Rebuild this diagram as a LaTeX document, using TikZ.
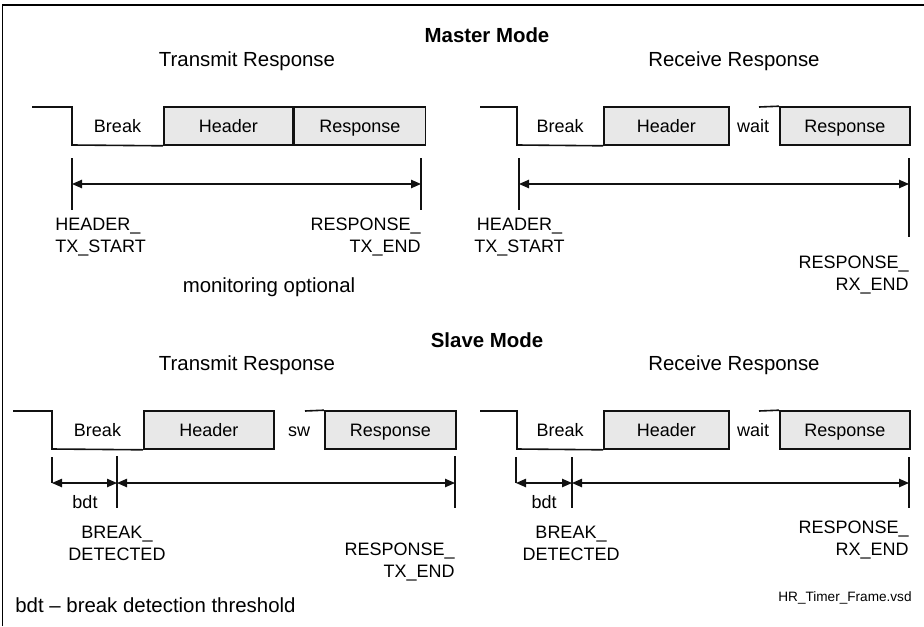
\documentclass[tikz,border=0pt]{standalone}
\usepackage{fontspec}
\setmainfont{Liberation Sans}
\usetikzlibrary{arrows.meta,positioning}
\definecolor{Field}{HTML}{E8E8E8}
\definecolor{Ink}{HTML}{111111}
\tikzset{sig/.style={draw=Ink,line width=.8pt},field/.style={draw=Ink,fill=Field,line width=.8pt,minimum height=19pt,inner sep=0pt,text height=6.6pt,text depth=.6pt,anchor=west,font=\fontsize{9}{11}\selectfont},lbl/.style={inner sep=0pt,font=\fontsize{9}{11}\selectfont},word/.style={lbl,text height=6.6pt,text depth=.6pt},ttl/.style={inner sep=0pt,font=\fontsize{10.2}{12}\selectfont},tick/.style={draw=Ink,line width=.6pt},span/.style={{Triangle[length=5pt,width=4.2pt]}-{Triangle[length=5pt,width=4.2pt]},draw=Ink,line width=.6pt}}

\begin{document}
\begin{tikzpicture}[x=.5pt,y=-.5pt]
\useasboundingbox (0,0) rectangle (924,626);
\draw[line width=.6pt] (2.5,626) -- (2.5,5) -- (924,5);
\node[ttl,font=\fontsize{10.2}{12}\selectfont\bfseries] (masterT) at (487,35) {Master Mode};
\node[ttl,font=\fontsize{10.2}{12}\selectfont\bfseries] (slaveT) at (487,340) {Slave Mode};
% master, transmit
\node[ttl] (mtT) at (247,61) {Transmit Response};
\node[field,minimum width=64.5pt] (mtHdr) at (163,126) {Header};
\node[field,minimum width=65.5pt,right=0pt of mtHdr] (mtRsp) {Response};
\node[word] (mtBrk) at (117.5,126) {Break};
\coordinate (mtS0) at (32,107);\coordinate (mtS1) at (72,107);\coordinate (mtS2) at (72,145);
\draw[sig] (mtS0) -- (mtS1) -- (mtS2) -- (mtHdr.south west);
\coordinate (mtA) at (72,184);\coordinate (mtB) at (421,184);
\draw[tick] (72,158) -- (72,210);\draw[tick] (421,158) -- (421,210);
\draw[span] (mtA) -- (mtB);
\node[lbl,align=left,anchor=west] (mtStart) at (55,237) {HEADER\_\\TX\_START};
\node[lbl,align=right,anchor=east] (mtEnd) at (421,237) {RESPONSE\_\\TX\_END};
\node[ttl] (mtMon) at (269,287) {monitoring optional};
% master, receive
\node[ttl] (mrT) at (734,61) {Receive Response};
\node[field,minimum width=62.5pt] (mrHdr) at (603,126) {Header};
\node[field,minimum width=65pt] (mrRsp) at (779,126) {Response};
\node[word] (mrBrk) at (560,126) {Break};
\node[word] (mrWait) at (753,126) {wait};
\coordinate (mrS0) at (480,107);\coordinate (mrS1) at (517,107);\coordinate (mrS2) at (517,145);\coordinate (mrS3) at (759,107);
\draw[sig] (mrS0) -- (mrS1) -- (mrS2) -- (mrHdr.south west);
\draw[sig] (mrS3) -- (mrRsp.north west);
\coordinate (mrA) at (519,184);\coordinate (mrB) at (909,184);
\draw[tick] (519,158) -- (519,210);\draw[tick] (909,158) -- (909,237);
\draw[span] (mrA) -- (mrB);
\node[lbl,align=center] (mrStart) at (519.5,237) {HEADER\_\\TX\_START};
\node[lbl,align=right,anchor=east] (mrEnd) at (909,275) {RESPONSE\_\\RX\_END};
% slave, transmit
\node[ttl] (stT) at (247,365) {Transmit Response};
\node[field,minimum width=65pt] (stHdr) at (143,430) {Header};
\node[field,minimum width=65.5pt] (stRsp) at (324,430) {Response};
\node[word] (stBrk) at (97.5,430) {Break};
\node[word] (stSw) at (299,430) {sw};
\coordinate (stS0) at (13,411);\coordinate (stS1) at (52,411);\coordinate (stS2) at (52,449);\coordinate (stS3) at (305,411);
\draw[sig] (stS0) -- (stS1) -- (stS2) -- (stHdr.south west);
\draw[sig] (stS3) -- (stRsp.north west);
\coordinate (stA) at (52,483);\coordinate (stD) at (117,483);\coordinate (stB) at (455,483);
\draw[tick] (52,457) -- (stA);\draw[tick] (117,456) -- (117,508);\draw[tick] (455,456) -- (455,508);
\draw[span] (stA) -- (stD);\draw[span] (stD) -- (stB);
\node[word] (stBdt) at (85,502) {bdt};
\node[lbl,align=center] (stDet) at (117,543) {BREAK\_\\DETECTED};
\node[lbl,align=right,anchor=east] (stEnd) at (455,562) {RESPONSE\_\\TX\_END};
\node[ttl,anchor=west] (legend) at (15,605) {bdt -- break detection threshold};
% slave, receive
\node[ttl] (srT) at (734,365) {Receive Response};
\node[field,minimum width=62.5pt] (srHdr) at (603,430) {Header};
\node[field,minimum width=65pt] (srRsp) at (779,430) {Response};
\node[word] (srBrk) at (560,430) {Break};
\node[word] (srWait) at (753,430) {wait};
\coordinate (srS0) at (480,411);\coordinate (srS1) at (517,411);\coordinate (srS2) at (517,449);\coordinate (srS3) at (759,411);
\draw[sig] (srS0) -- (srS1) -- (srS2) -- (srHdr.south west);
\draw[sig] (srS3) -- (srRsp.north west);
\coordinate (srA) at (516,483);\coordinate (srD) at (572,483);\coordinate (srB) at (909,483);
\draw[tick] (516,457) -- (srA);\draw[tick] (572,457) -- (572,508);\draw[tick] (909,457) -- (909,508);
\draw[span] (srA) -- (srD);\draw[span] (srD) -- (srB);
\node[word] (srBdt) at (544,502) {bdt};
\node[lbl,align=center] (srDet) at (571,543) {BREAK\_\\DETECTED};
\node[lbl,align=right,anchor=east] (srEnd) at (909,540) {RESPONSE\_\\RX\_END};
\node[inner sep=0pt,anchor=east,font=\fontsize{6.8}{8}\selectfont] (file) at (912,598) {HR\_Timer\_Frame.vsd};
\end{tikzpicture}
\end{document}
